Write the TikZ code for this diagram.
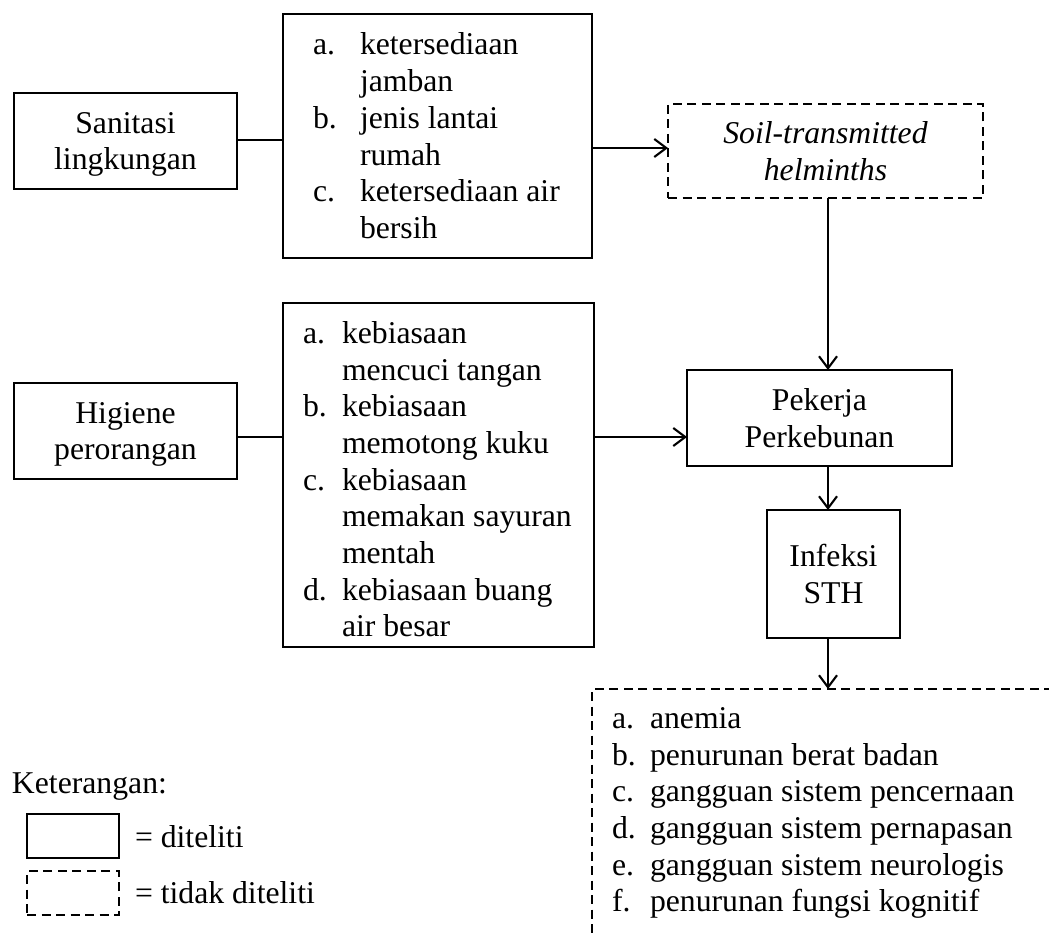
\documentclass[tikz,border=0pt]{standalone}
\usepackage{fontspec}
\setmainfont{Liberation Serif}
\usetikzlibrary{arrows.meta}
\begin{document}
\begin{tikzpicture}[x=1pt,y=-1pt,
  every node/.style={font=\fontsize{31.7}{36.7}\selectfont, inner sep=0pt, outer sep=0pt},
  solidbox/.style={draw, line width=2.1pt, align=center},
  dashbox/.style={draw, line width=2.1pt, dash pattern=on 9pt off 5.5pt, align=center},
  conn/.style={line width=2.1pt},
  arr/.style={line width=2.1pt, -{Straight Barb[length=12pt,width=18pt]}},
  txt/.style={anchor=base west}
]
\useasboundingbox (0,0) rectangle (1049,933);
\fill[white] (0,0) rectangle (1049,933);

% main boxes
\node[solidbox, minimum width=223pt, minimum height=96pt, text depth=0pt] (san) at (125.5,141) {Sanitasi\\lingkungan};
\node[solidbox, minimum width=309pt, minimum height=244pt] (b1) at (437.5,136) {};
\node[dashbox, minimum width=315pt, minimum height=94pt, font=\fontsize{31.7}{36.7}\selectfont\itshape] (sth) at (825.5,151) {Soil-transmitted\\helminths};
\node[solidbox, minimum width=223pt, minimum height=96pt, text depth=0pt] (hig) at (125.5,431) {Higiene\\perorangan};
\node[solidbox, minimum width=311pt, minimum height=344pt] (b2) at (438.5,475) {};
\node[solidbox, minimum width=265pt, minimum height=96pt] (pek) at (819.5,418) {Pekerja\\Perkebunan};
\node[solidbox, minimum width=133pt, minimum height=128pt] (inf) at (833.5,574) {Infeksi\\STH};
\begin{scope}
  \clip (0,0) rectangle (1049,933);
  \node[dashbox, minimum width=520pt, minimum height=320pt, anchor=north west] (eff) at (592,689) {};
\end{scope}

% helper coordinates
\coordinate (ax) at (828,0);
\coordinate (ay0) at (0,140);
\coordinate (ay1) at (0,148);
\coordinate (ay) at (0,437);

% connectors
\draw[conn] (san.east |- ay0) -- (b1.west |- ay0);
\draw[arr] (b1.east |- ay1) -- (sth.west |- ay1);
\draw[arr] (sth.south -| ax) -- (pek.north -| ax);
\draw[conn] (hig.east |- ay) -- (b2.west |- ay);
\draw[arr] (b2.east |- ay) -- (pek.west |- ay);
\draw[arr] (pek.south -| ax) -- (inf.north -| ax);
\draw[arr] (inf.south -| ax) -- (eff.north -| ax);

% list in box 1
\node[txt] (b1la) at (313,55) {a.};
\node[txt] (b1ta) at (360,55) {ketersediaan};
\node[txt] (b1ta2) at (360,91.8) {jamban};
\node[txt] (b1lb) at (313,128.5) {b.};
\node[txt] (b1tb) at (360,128.5) {jenis lantai};
\node[txt] (b1tb2) at (360,165.2) {rumah};
\node[txt] (b1lc) at (313,202) {c.};
\node[txt] (b1tc) at (360,202) {ketersediaan air};
\node[txt] (b1tc2) at (360,238.7) {bersih};

% list in box 2
\node[txt] (b2la) at (303,343.3) {a.};
\node[txt] (b2ta) at (342,343.3) {kebiasaan};
\node[txt] (b2ta2) at (342,380) {mencuci tangan};
\node[txt] (b2lb) at (303,416.7) {b.};
\node[txt] (b2tb) at (342,416.7) {kebiasaan};
\node[txt] (b2tb2) at (342,453.4) {memotong kuku};
\node[txt] (b2lc) at (303,490.1) {c.};
\node[txt] (b2tc) at (342,490.1) {kebiasaan};
\node[txt] (b2tc2) at (342,526.8) {memakan sayuran};
\node[txt] (b2tc3) at (342,563.5) {mentah};
\node[txt] (b2ld) at (303,600.2) {d.};
\node[txt] (b2td) at (342,600.2) {kebiasaan buang};
\node[txt] (b2td2) at (342,636.9) {air besar};

% list of effects
\node[txt] (ela) at (612,728.3) {a.};
\node[txt] (eta) at (650,728.3) {anemia};
\node[txt] (elb) at (612,765) {b.};
\node[txt] (etb) at (650,765) {penurunan berat badan};
\node[txt] (elc) at (612,801.7) {c.};
\node[txt] (etc) at (650,801.7) {gangguan sistem pencernaan};
\node[txt] (eld) at (612,838.4) {d.};
\node[txt] (etd) at (650,838.4) {gangguan sistem pernapasan};
\node[txt] (ele) at (612,875.1) {e.};
\node[txt] (ete) at (650,875.1) {gangguan sistem neurologis};
\node[txt] (elf) at (612,911.8) {f.};
\node[txt] (etf) at (650,911.8) {penurunan fungsi kognitif};

% legend
\node[txt] (ket) at (12,793) {Keterangan:};
\node[solidbox, minimum width=92pt, minimum height=44pt] (lg1) at (73,836) {};
\node[txt] (lg1t) at (135,847) {= diteliti};
\node[dashbox, minimum width=92pt, minimum height=44pt] (lg2) at (73,893) {};
\node[txt] (lg2t) at (135,903) {= tidak diteliti};
\end{tikzpicture}
\end{document}
